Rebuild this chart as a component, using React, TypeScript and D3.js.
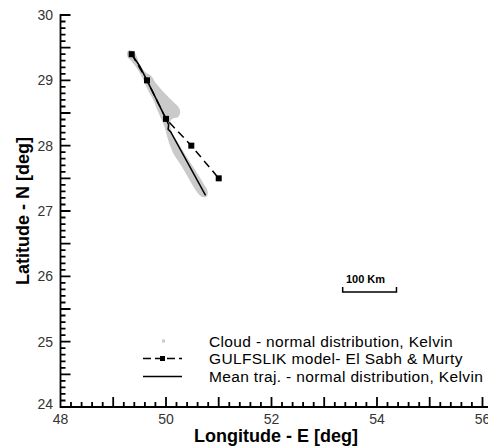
import { useMemo } from "react";
import * as d3 from "d3";

const WIDTH = 496;
const HEIGHT = 447;
const PLOT = { left: 60.5, right: 493, top: 15, bottom: 407 };

const X_DOMAIN = [48, 56.2];
const Y_DOMAIN = [24, 30];
const X_LABELS = [48, 50, 52, 54, 56];
const Y_LABELS = [24, 25, 26, 27, 28, 29, 30];

// GULFSLIK model (El Sabh & Murty) positions [lon, lat]
const gulfLon = [49.35, 49.64, 50.0, 50.48, 51.0];
const gulfLat = [29.4, 29.0, 28.41, 28.0, 27.5];

// mean trajectory
const meanLon = [49.35, 49.5, 49.64, 50.0, 50.05, 50.04, 50.09, 50.75];
const meanLat = [29.4, 29.22, 29.0, 28.41, 28.32, 28.25, 28.21, 27.24];

// outline of the particle cloud
const cloudLon = [49.27, 49.33, 49.41, 49.51, 49.6, 49.73, 49.79, 49.98, 50.14, 50.23, 50.27, 50.23, 50.14, 50.08, 50.11, 50.23, 50.39, 50.55, 50.71, 50.79, 50.77, 50.68, 50.58, 50.45, 50.3, 50.14, 50.04, 49.98, 49.92, 49.85, 49.76, 49.66, 49.54, 49.47, 49.35, 49.27];
const cloudLat = [29.44, 29.46, 29.42, 29.23, 29.13, 29.06, 28.98, 28.8, 28.67, 28.6, 28.52, 28.44, 28.42, 28.37, 28.21, 28.04, 27.83, 27.63, 27.42, 27.3, 27.22, 27.22, 27.3, 27.47, 27.68, 27.88, 28.09, 28.27, 28.39, 28.52, 28.7, 28.85, 29.06, 29.16, 29.29, 29.36];

const legendLabels = [
  "Cloud - normal distribution, Kelvin",
  "GULFSLIK model- El Sabh & Murty",
  "Mean traj. - normal distribution, Kelvin",
];

const FONT = "'Liberation Sans', Arial, sans-serif";
const GREY = "#cacaca";

// tick positions: x every 0.2 (major every 1), y every 0.1 (major every 0.5)
const X_TICKS = Array.from({ length: 42 }, (_, i) => ({ v: 48 + i * 0.2, major: i % 5 === 0 }));
const Y_TICKS = Array.from({ length: 61 }, (_, i) => ({ v: 24 + i * 0.1, major: i % 5 === 0 }));

export default function App() {
  const x = useMemo(() => d3.scaleLinear().domain(X_DOMAIN).range([PLOT.left, PLOT.right]), []);
  const y = useMemo(() => d3.scaleLinear().domain(Y_DOMAIN).range([PLOT.bottom, PLOT.top]), []);

  const line = d3.line<[number, number]>().x((d) => x(d[0])).y((d) => y(d[1]));
  const cloudPath = d3
    .line<[number, number]>()
    .x((d) => x(d[0]))
    .y((d) => y(d[1]))
    .curve(d3.curveCatmullRomClosed)(cloudLon.map((v, i) => [v, cloudLat[i]]));

  const gulf = gulfLon.map((v, i) => [v, gulfLat[i]] as [number, number]);
  const mean = meanLon.map((v, i) => [v, meanLat[i]] as [number, number]);

  // frame and ticks in one path, absolute commands only
  const r = (v: number) => v.toFixed(1);
  let frame = `M${PLOT.left},${PLOT.top - 1}V${PLOT.bottom}H${PLOT.right}`;
  X_TICKS.forEach((t) => {
    frame += `M${r(x(t.v))},${PLOT.bottom}V${PLOT.bottom - (t.major ? 10 : 5)}`;
  });
  Y_TICKS.forEach((t) => {
    frame += `M${PLOT.left},${r(y(t.v))}H${PLOT.left + (t.major ? 10 : 5)}`;
  });

  // scale bar
  const barX0 = x(53.35);
  const barX1 = x(54.37);
  const barY = 292;

  const legX = 143;
  const legY = [341, 358.5, 376.5];

  return (
    <svg width={WIDTH} height={HEIGHT} fontFamily={FONT} style={{ display: "block", marginLeft: -8, marginTop: -8 }}>
      <rect x={0} y={0} width={WIDTH} height={HEIGHT} fill="#fff" />
      <path d={cloudPath ?? ""} fill={GREY} />
      <path d={line(mean) ?? ""} fill="none" stroke="#000" strokeWidth={1.5} />
      <path d={line(gulf) ?? ""} fill="none" stroke="#000" strokeWidth={1.5} strokeDasharray="8,5" />
      {gulf.map((d, i) => (
        <rect key={i} x={x(d[0]) - 3} y={y(d[1]) - 3} width={6} height={6} fill="#000" />
      ))}

      {/* frame with inside ticks */}
      <path d={frame} fill="none" stroke="#000" strokeWidth={1.8} />

      {X_LABELS.map((t) => (
        <text key={"xl" + t} x={x(t)} y={424} textAnchor="middle" fontSize={14} fill="#333">
          {t}
        </text>
      ))}
      {Y_LABELS.map((t) => (
        <text key={"yl" + t} x={53} y={y(t) + (t === 24 ? 2 : 5)} textAnchor="end" fontSize={14} fill="#333">
          {t}
        </text>
      ))}
      <text x={276} y={442} textAnchor="middle" fontSize={18} fontWeight="bold">
        Longitude - E [deg]
      </text>
      <text transform={`translate(29,${(PLOT.top + PLOT.bottom) / 2}) rotate(-90)`} textAnchor="middle" fontSize={18} fontWeight="bold">
        Latitude - N [deg]
      </text>

      {/* scale bar */}
      <path d={`M${barX0},${barY - 5}V${barY}H${barX1}V${barY - 5}`} fill="none" stroke="#000" strokeWidth={1.5} />
      <text x={365.5} y={282.5} textAnchor="middle" fontSize={11} fontWeight="bold">
        100 Km
      </text>

      {/* legend */}
      <rect x={legX + 19} y={legY[0] - 1.5} width={3} height={3} fill={GREY} />
      <line x1={legX} x2={legX + 39} y1={legY[1]} y2={legY[1]} stroke="#000" strokeWidth={1.5} strokeDasharray="8,4" />
      <rect x={legX + 17} y={legY[1] - 2.5} width={5} height={5} fill="#000" />
      <line x1={legX} x2={legX + 39} y1={legY[2]} y2={legY[2]} stroke="#000" strokeWidth={1.5} />
      {legendLabels.map((l, i) => (
        <text key={l} x={209} y={legY[i] + 5.5} fontSize={15.5} letterSpacing={0.35} fill="#000">
          {l}
        </text>
      ))}
    </svg>
  );
}
